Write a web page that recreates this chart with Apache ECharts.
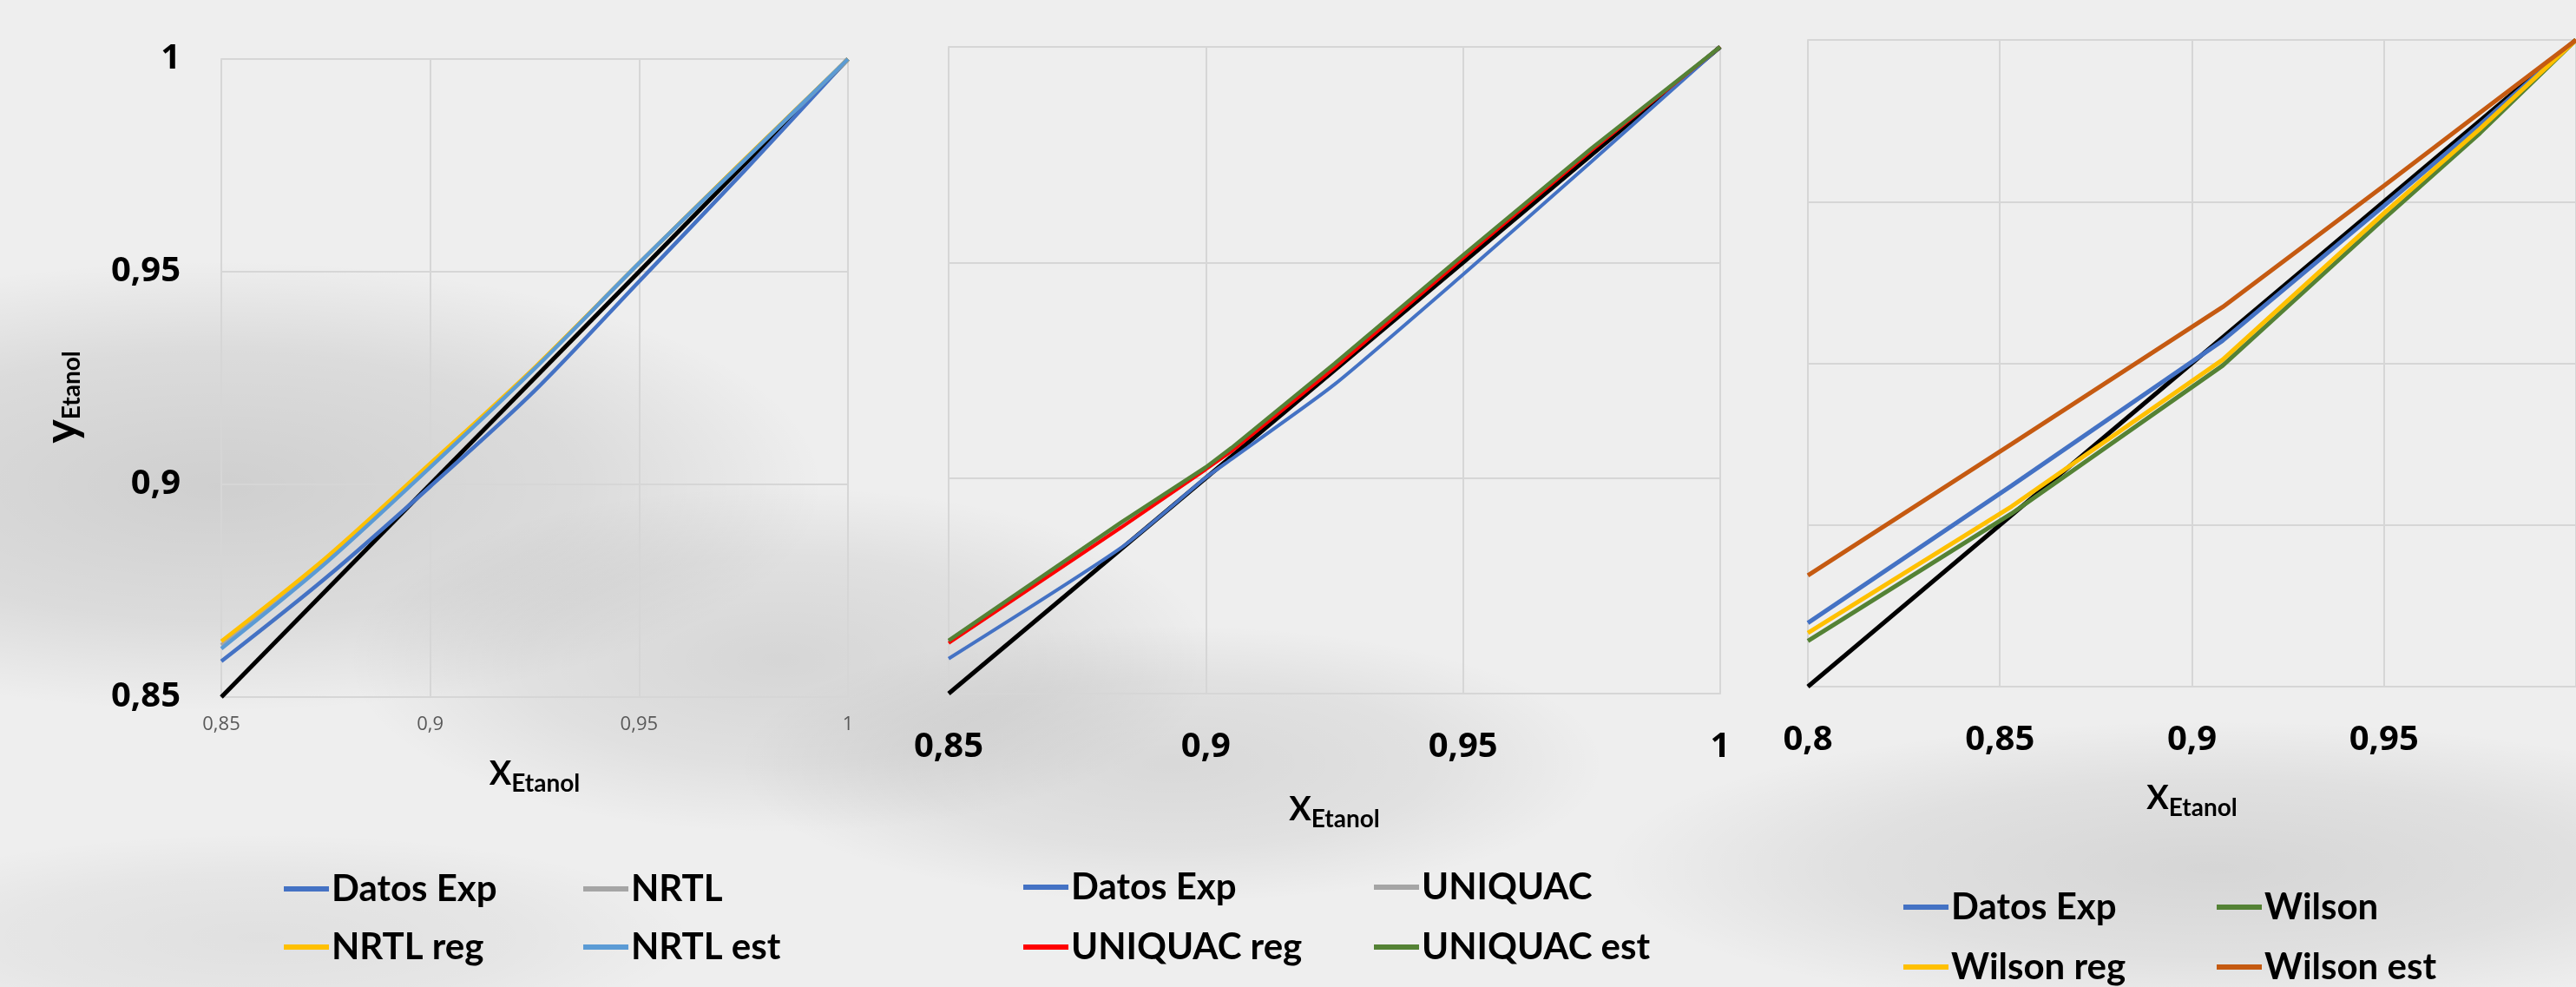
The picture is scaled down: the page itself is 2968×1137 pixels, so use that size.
<!DOCTYPE html>
<html><head><meta charset="utf-8">
<script src="https://cdn.jsdelivr.net/npm/echarts@6/dist/echarts.min.js"></script>
<style>html,body{margin:0;padding:0;background:#eeeeee;overflow:hidden}#c{width:2968px;height:1137px;}</style>
</head><body><div id="c"></div>
<script>
// ---------- Panel 1 : NRTL ----------
const x1 = [0.85, 0.875, 0.9, 0.925, 0.95, 0.975, 1];
const datosExp1 = [0.8584, 0.878, 0.8995, 0.922, 0.9477, 0.9735, 1];
const nrtl1 = [0.8622, 0.882, 0.9044, 0.9273, 0.952, 0.9761, 1];
const nrtlReg1 = [0.8631, 0.8827, 0.9049, 0.9275, 0.952, 0.9762, 1];
const nrtlEst1 = [0.8614, 0.8815, 0.904, 0.9272, 0.952, 0.976, 1];
// ---------- Panel 2 : UNIQUAC ----------
const x2 = [0.85, 0.8835, 0.9, 0.905, 0.925, 0.95, 0.975, 1];
const datosExp2 = [0.8581, 0.8838, 0.9001, 0.9044, 0.9217, 0.9472, 0.9734, 1];
const uniquac2 = [0.8621, 0.8893, 0.9023, 0.9067, 0.9262, 0.9515, 0.9763, 1];
const uniquacReg2 = [0.8617, 0.8885, 0.902, 0.9062, 0.9255, 0.951, 0.976, 1];
const uniquacEst2 = [0.8623, 0.8897, 0.9025, 0.907, 0.9265, 0.9517, 0.9765, 1];
// ---------- Panel 3 : Wilson ----------
const x3 = [0.8, 0.853, 0.908, 0.95, 0.975, 1];
const datosExp3 = [0.8197, 0.8621, 0.907, 0.9487, 0.9738, 1];
const wilson3 = [0.8141, 0.8535, 0.8993, 0.9447, 0.9712, 1];
const wilsonReg3 = [0.8166, 0.8557, 0.9011, 0.9464, 0.9725, 1];
const wilsonEst3 = [0.8344, 0.875, 0.9174, 0.9549, 0.9775, 1];
// ---------- y = x reference ----------
const diag12 = [0.85, 1];
const diag3 = [0.8, 1];
// ---------- axis ranges ----------
const axisMin = [0.85, 0.85, 0.8];
const axisMax = [1, 1, 1];
const tickStep = 0.05;

const C = {exp:'#4472C4', gray:'#A5A5A5', yellow:'#FFC000', lblue:'#5B9BD5', red:'#FF0000', green:'#548235', orange:'#C55A11', black:'#000000'};
const FT = 'Lato, "Open Sans", sans-serif';
const fmt = v => String(+v.toFixed(2)).replace('.', ',');
const zip = (xs, ys) => xs.map((x, i) => [x, ys[i]]);

function line(name, xs, ys, color, idx, w, sm) {
  return {type:'line', name, xAxisIndex:idx, yAxisIndex:idx, data:zip(xs, ys), showSymbol:false, symbol:'none',
    smooth: sm || false,
    lineStyle:{color, width:w || 4.5}, itemStyle:{color}, z:3, silent:true};
}
const gridLine = {show:true, lineStyle:{color:'#d6d6d6', width:2}};
const nameRich = {
  x:{fontFamily:FT, fontWeight:'bold', fontSize:38, color:'#000', lineHeight:44, verticalAlign:'top'},
  y:{fontFamily:FT, fontWeight:'bold', fontSize:52, color:'#000', lineHeight:52, verticalAlign:'top'},
  s:{fontFamily:FT, fontWeight:'bold', fontSize:28, color:'#000', lineHeight:44, verticalAlign:'bottom', padding:[14,0,0,0]}
};
function xAx(i, labelStyle, gap) {
  return {type:'value', gridIndex:i, min:axisMin[i], max:axisMax[i], interval:tickStep,
    axisLine:{show:true, lineStyle:{color:'#d6d6d6', width:2}}, axisTick:{show:false}, splitLine:gridLine,
    axisLabel:Object.assign({formatter:fmt, showMaxLabel: i !== 2}, labelStyle),
    name:'{x|X}{s|Etanol}', nameLocation:'middle', nameGap:gap, nameTextStyle:{rich:nameRich}};
}
function yAx(i, showLabel) {
  const o = {type:'value', gridIndex:i, min:axisMin[i], max:axisMax[i], interval:tickStep,
    axisLine:{show:true, lineStyle:{color:'#d6d6d6', width:2}}, axisTick:{show:false}, splitLine:gridLine,
    axisLabel:{show:showLabel, formatter:fmt, fontFamily:'"Open Sans", sans-serif', fontWeight:'bold', fontSize:40, color:'#000', margin:47}};
  if (showLabel) {
    o.name = '{y|y}{s|Etanol}'; o.nameLocation = 'middle'; o.nameGap = 158; o.nameRotate = 90;
    o.nameTextStyle = {rich:nameRich, padding:[0, 44, 0, 0]};
  }
  return o;
}
const bigLab = {fontFamily:'"Open Sans", sans-serif', fontWeight:'bold', fontSize:40, color:'#000', margin:42};
const smallLab = {fontFamily:'"Open Sans", sans-serif', fontSize:22, color:'#595959', margin:21};

function leg(name, left, cy) {
  return {orient:'horizontal', left, top:cy - 20, itemWidth:52, itemHeight:6, icon:'rect', selectedMode:false,
    data:[name], textStyle:{fontFamily:FT, fontWeight:'bold', fontSize:42, color:'#000', lineHeight:40, padding:[0,0,0,-2]}};
}

function blob(cx, cy, rx, ry, a) {
  return {type:'circle', z:-10, silent:true, x:cx, y:cy, scaleX:rx/100, scaleY:ry/100,
    shape:{cx:0, cy:0, r:100},
    style:{fill:{type:'radial', x:0.5, y:0.5, r:0.5, colorStops:[{offset:0, color:'rgba(0,0,0,'+a+')'},{offset:0.6, color:'rgba(0,0,0,'+(a*0.6)+')'},{offset:1, color:'rgba(0,0,0,0)'}]}}};
}

const chart = echarts.init(document.getElementById('c'), null, {renderer:'canvas'});
chart.setOption({
  backgroundColor:'#eeeeee',
  animation:false,
  graphic:[
    blob(250, 560, 700, 260, 0.13),
    blob(900, 760, 500, 200, 0.10),
    blob(1350, 880, 500, 160, 0.09),
    blob(2550, 1000, 700, 170, 0.10),
    blob(300, 1080, 500, 120, 0.06)
  ],
  grid:[
    {left:255, top:68, width:722, height:735, containLabel:false},
    {left:1093, top:54, width:889, height:745, containLabel:false},
    {left:2083, top:46, right:-11, height:745, containLabel:false}
  ],
  xAxis:[xAx(0, smallLab, 70), xAx(1, bigLab, 115), xAx(2, bigLab, 110)],
  yAxis:[yAx(0, true), yAx(1, false), yAx(2, false)],
  legend:[
    leg('Datos Exp', 322, 1018), leg('NRTL reg', 322, 1085),
    leg('NRTL', 667, 1018), leg('NRTL est', 667, 1085),
    leg('Datos Exp', 1174, 1016), leg('UNIQUAC reg', 1174, 1085),
    leg('UNIQUAC', 1578, 1016), leg('UNIQUAC est', 1578, 1085),
    leg('Datos Exp', 2188, 1039), leg('Wilson reg', 2188, 1108),
    leg('Wilson', 2549, 1039), leg('Wilson est', 2549, 1108)
  ],
  series:[
    line('y=x', diag12, diag12, C.black, 0, 5),
    line('Datos Exp', x1, datosExp1, C.exp, 0, 4.5, 0.3),
    line('NRTL', x1, nrtl1, C.gray, 0, 4.5, 0.3),
    line('NRTL reg', x1, nrtlReg1, C.yellow, 0, 4.5, 0.3),
    line('NRTL est', x1, nrtlEst1, C.lblue, 0, 4.5, 0.3),

    line('y=x', diag12, diag12, C.black, 1, 5),
    line('Datos Exp', x2, datosExp2, C.exp, 1, 4, 0.2),
    line('UNIQUAC', x2, uniquac2, C.gray, 1, 4),
    line('UNIQUAC reg', x2, uniquacReg2, C.red, 1, 4),
    line('UNIQUAC est', x2, uniquacEst2, C.green, 1, 4.5),

    line('y=x', diag3, diag3, C.black, 2, 5),
    line('Datos Exp', x3, datosExp3, C.exp, 2, 5),
    line('Wilson', x3, wilson3, C.green, 2, 5),
    line('Wilson reg', x3, wilsonReg3, C.yellow, 2, 5),
    line('Wilson est', x3, wilsonEst3, C.orange, 2, 5)
  ]
});
</script></body></html>
